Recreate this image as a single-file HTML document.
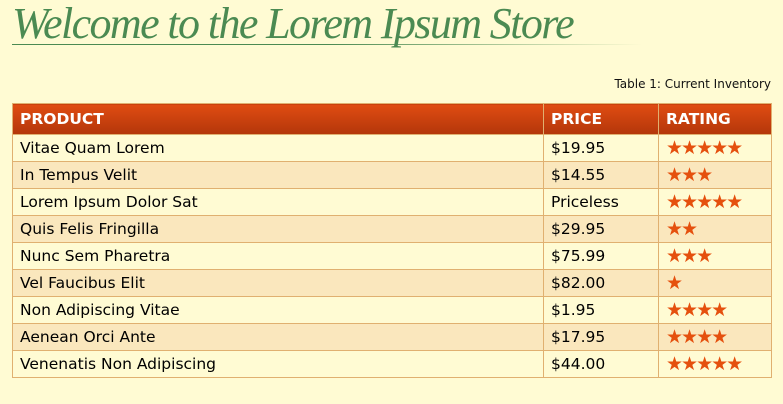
<!DOCTYPE html>
<html><head><meta charset="utf-8"><style>
body{margin:0;width:783px;height:404px;background:#fffbd3;font-family:"DejaVu Sans","Liberation Sans",sans-serif;overflow:hidden;position:relative}
h1{position:absolute;left:12px;top:1px;margin:0;font:italic 44px "Liberation Serif",serif;color:#4b8a52;line-height:46px;white-space:nowrap;letter-spacing:-1.6px}
.ul{position:absolute;left:12px;top:44px;width:630px;height:1px;background:linear-gradient(90deg,#4b8a52,#4b8a52 50%,rgba(75,138,82,0))}
.cap{position:absolute;right:12px;top:77px;font-size:12px;color:#111}
table{position:absolute;left:12px;top:103px;width:760px;border-collapse:collapse;font-size:15.5px}
th{height:30px;background:linear-gradient(#e04c12,#b3360a);color:#fff;text-align:left;padding:0 7px;font-size:15.5px;border:1px solid #e0b070}
td{height:26px;padding:0 7px;border:1px solid #e0b070;color:#000}
tr:nth-child(even) td{background:#fae7bd}
.st{color:#e5500e;font-size:19px;letter-spacing:-2px;line-height:20px}
</style></head><body>
<h1>Welcome to the Lorem Ipsum Store</h1>
<div class="ul"></div>
<div class="cap">Table 1: Current Inventory</div>
<table>
<thead><tr><th style="width:516px">PRODUCT</th><th style="width:100px">PRICE</th><th>RATING</th></tr></thead>
<tbody>
<tr><td>Vitae Quam Lorem</td><td>$19.95</td><td class="st">★★★★★</td></tr>
<tr><td>In Tempus Velit</td><td>$14.55</td><td class="st">★★★</td></tr>
<tr><td>Lorem Ipsum Dolor Sat</td><td>Priceless</td><td class="st">★★★★★</td></tr>
<tr><td>Quis Felis Fringilla</td><td>$29.95</td><td class="st">★★</td></tr>
<tr><td>Nunc Sem Pharetra</td><td>$75.99</td><td class="st">★★★</td></tr>
<tr><td>Vel Faucibus Elit</td><td>$82.00</td><td class="st">★</td></tr>
<tr><td>Non Adipiscing Vitae</td><td>$1.95</td><td class="st">★★★★</td></tr>
<tr><td>Aenean Orci Ante</td><td>$17.95</td><td class="st">★★★★</td></tr>
<tr><td>Venenatis Non Adipiscing</td><td>$44.00</td><td class="st">★★★★★</td></tr>
</tbody></table>
</body></html>
